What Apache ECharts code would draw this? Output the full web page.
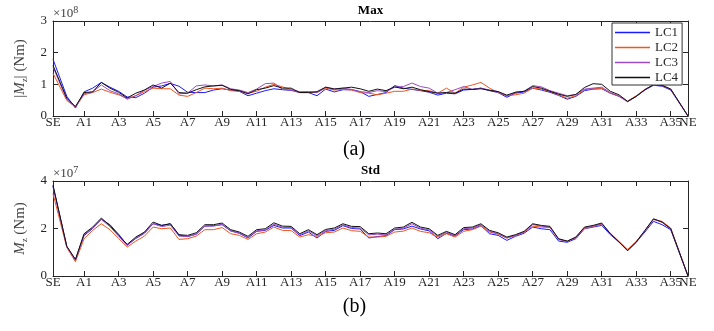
<!DOCTYPE html>
<html><head><meta charset="utf-8">
<script src="https://cdn.jsdelivr.net/npm/echarts@6/dist/echarts.min.js"></script>
<style>html,body{margin:0;padding:0;background:#fff}#c{width:714px;height:331px}</style>
</head><body><div id="c"></div>
<script>
// station positions along the bridge (A-units): SE, A0 ... A35 step 0.5, NE
const stations = [-0.8,
 0,0.5,1,1.5,2,2.5,3,3.5,4,4.5,5,5.5,6,6.5,7,7.5,8,8.5,9,9.5,10,10.5,11,11.5,12,12.5,13,13.5,14,14.5,15,15.5,16,16.5,17,17.5,
 18,18.5,19,19.5,20,20.5,21,21.5,22,22.5,23,23.5,24,24.5,25,25.5,26,26.5,27,27.5,28,28.5,29,29.5,30,30.5,31,31.5,32,32.5,33,33.5,34,34.5,35,
 36];
const tickPositions = [-0.8,1,3,5,7,9,11,13,15,17,19,21,23,25,27,29,31,33,35,36];
const tickLabels = ['SE','A1','A3','A5','A7','A9','A11','A13','A15','A17','A19','A21','A23','A25','A27','A29','A31','A33','A35','NE'];
const seriesNames = ['LC1','LC2','LC3','LC4'];

// Max |Mz| (x1e8 Nm)
const maxLC1 = [1.79,0.62,0.25,0.76,0.88,1.06,0.91,0.78,0.60,0.58,0.72,0.91,0.95,1.03,0.94,0.75,0.74,0.74,0.82,0.86,0.82,0.78,0.64,0.72,0.80,0.86,0.83,0.81,0.74,0.74,0.64,0.85,0.76,0.83,0.83,0.77,0.62,0.68,0.74,0.96,0.88,0.84,0.80,0.75,0.66,0.72,0.70,0.82,0.84,0.88,0.80,0.74,0.59,0.72,0.76,0.88,0.82,0.75,0.65,0.53,0.62,0.80,0.85,0.86,0.72,0.62,0.46,0.62,0.82,0.97,0.94,0.82,0];
const maxLC2 = [1.35,0.49,0.28,0.67,0.74,0.85,0.75,0.67,0.56,0.64,0.77,0.88,0.86,0.86,0.66,0.62,0.74,0.88,0.86,0.88,0.80,0.78,0.72,0.78,0.91,1.00,0.92,0.84,0.74,0.76,0.74,0.88,0.82,0.84,0.82,0.74,0.72,0.67,0.72,0.78,0.78,0.85,0.81,0.80,0.72,0.88,0.72,0.91,0.98,1.06,0.88,0.74,0.64,0.67,0.72,0.88,0.85,0.77,0.67,0.56,0.64,0.83,0.86,0.88,0.72,0.63,0.47,0.64,0.84,0.98,0.96,0.85,0];
const maxLC3 = [1.55,0.52,0.29,0.70,0.77,0.98,0.80,0.70,0.53,0.64,0.82,0.93,1.04,1.09,0.70,0.72,0.95,0.98,0.95,0.98,0.86,0.82,0.74,0.85,1.02,1.04,0.84,0.82,0.77,0.77,0.74,0.91,0.86,0.88,0.84,0.77,0.74,0.80,0.77,0.91,0.93,1.04,0.93,0.88,0.72,0.74,0.83,0.93,0.84,0.88,0.82,0.77,0.62,0.75,0.78,0.96,0.92,0.80,0.72,0.64,0.68,0.85,0.88,0.91,0.74,0.63,0.45,0.62,0.83,0.98,0.96,0.84,0];
const maxLC4 = [1.60,0.56,0.30,0.74,0.76,1.06,0.88,0.75,0.57,0.72,0.82,0.98,0.88,1.04,0.74,0.72,0.83,0.92,0.95,0.97,0.84,0.80,0.70,0.83,0.88,0.96,0.88,0.88,0.74,0.74,0.77,0.91,0.85,0.88,0.91,0.86,0.78,0.85,0.80,0.92,0.86,0.91,0.83,0.77,0.72,0.74,0.72,0.85,0.84,0.86,0.81,0.77,0.66,0.75,0.78,0.93,0.88,0.78,0.69,0.62,0.68,0.90,1.02,1.00,0.78,0.67,0.46,0.62,0.83,0.99,0.97,0.85,0];

// Std Mz (x1e7 Nm)
const stdLC1 = [3.80,1.24,0.68,1.70,2.00,2.39,2.16,1.76,1.30,1.58,1.80,2.20,2.13,2.20,1.72,1.66,1.76,2.10,2.12,2.16,1.90,1.80,1.60,1.88,1.92,2.13,2.02,2.02,1.70,1.85,1.60,1.88,1.92,2.12,2.00,1.98,1.60,1.66,1.70,1.95,1.98,2.10,1.98,1.90,1.57,1.80,1.68,1.95,1.98,2.12,1.78,1.71,1.50,1.67,1.80,2.06,1.99,1.95,1.47,1.42,1.57,1.99,2.06,2.13,1.74,1.43,1.08,1.42,1.85,2.30,2.16,1.95,0];
const stdLC2 = [3.47,1.20,0.60,1.57,1.92,2.20,1.95,1.58,1.22,1.47,1.68,2.06,1.99,2.02,1.54,1.57,1.68,1.95,1.95,2.04,1.78,1.71,1.54,1.78,1.85,2.06,1.92,1.91,1.64,1.74,1.67,1.82,1.85,2.02,1.91,1.88,1.64,1.64,1.67,1.85,1.89,2.02,1.88,1.82,1.64,1.78,1.64,1.88,1.95,2.10,1.85,1.76,1.60,1.70,1.84,2.10,2.06,2.04,1.55,1.46,1.62,2.00,2.08,2.18,1.80,1.46,1.12,1.46,1.90,2.38,2.30,2.02,0];
const stdLC3 = [3.75,1.23,0.66,1.75,2.02,2.38,2.08,1.68,1.28,1.60,1.82,2.20,2.08,2.14,1.68,1.66,1.76,2.10,2.10,2.17,1.90,1.80,1.62,1.90,1.94,2.18,2.05,2.04,1.73,1.90,1.70,1.91,1.97,2.15,2.04,2.02,1.73,1.76,1.73,1.97,2.01,2.20,2.01,1.94,1.67,1.84,1.70,1.99,2.02,2.16,1.88,1.78,1.60,1.71,1.85,2.17,2.10,2.06,1.54,1.45,1.62,2.03,2.10,2.20,1.78,1.44,1.08,1.43,1.90,2.39,2.26,1.98,0];
const stdLC4 = [3.82,1.25,0.70,1.78,2.06,2.44,2.12,1.72,1.33,1.64,1.85,2.27,2.13,2.20,1.74,1.71,1.82,2.16,2.16,2.23,1.95,1.85,1.67,1.95,1.99,2.24,2.10,2.09,1.78,1.95,1.74,1.96,2.02,2.20,2.09,2.08,1.78,1.81,1.78,2.02,2.06,2.26,2.06,1.99,1.71,1.88,1.74,2.04,2.06,2.20,1.92,1.82,1.64,1.74,1.88,2.20,2.13,2.09,1.57,1.47,1.64,2.06,2.13,2.23,1.78,1.43,1.06,1.43,1.92,2.41,2.27,1.99,0];

const colors = ['#1a1aff','#f0561e','#9a4cc0','#111111'];
const FONT = 'Liberation Serif';
const TXT = '#262626';
const NAMEC = '#404040';

function pairs(vals){ return stations.map((x,i)=>[x, vals[i]]); }
function labelFor(v){
  for (let i=0;i<tickPositions.length;i++) if (Math.abs(tickPositions[i]-v)<1e-6) return tickLabels[i];
  return '';
}
const lastTick = tickPositions[tickPositions.length-1];
const innerTicks = tickPositions.slice(0, tickPositions.length-1);
function xAxes(g){
  const common = {type:'value', gridIndex:g, min:-0.8, max:36, splitLine:{show:false},
    axisLine:{show:true, onZero:false, lineStyle:{color:TXT, width:1}}};
  const lab = {fontFamily:FONT, fontSize:13, color:TXT, margin:0, formatter:labelFor, showMinLabel:true, showMaxLabel:true};
  return [
    Object.assign({}, common, {position:'bottom',
      axisTick:{show:true, inside:true, length:5, customValues:tickPositions, lineStyle:{color:TXT}},
      axisLabel:Object.assign({show:true, customValues:innerTicks}, lab)}),
    Object.assign({}, common, {position:'top',
      axisTick:{show:true, inside:true, length:5, customValues:tickPositions, lineStyle:{color:TXT}},
      axisLabel:{show:false}}),
    Object.assign({}, common, {position:'bottom', offset:0, axisLine:{show:false}, axisTick:{show:false},
      axisLabel:Object.assign({show:true, customValues:[lastTick]}, lab)})
  ];
}
function yAxes(g, max, interval, nameRich){
  return [
    {type:'value', gridIndex:g, min:0, max:max, interval:interval, position:'left',
     splitLine:{show:false}, axisLine:{show:true, onZero:false, lineStyle:{color:TXT}},
     axisTick:{show:true, inside:true, length:5, lineStyle:{color:TXT}},
     axisLabel:{fontFamily:FONT, fontSize:13, color:TXT, margin:6, showMinLabel:true, showMaxLabel:true},
     name:nameRich, nameLocation:'middle', nameGap:12, nameRotate:90,
     nameTextStyle:{fontFamily:FONT, fontSize:15, color:NAMEC, lineHeight:20,
       rich:{i:{fontFamily:FONT, fontSize:15, fontStyle:'italic', color:NAMEC, lineHeight:20},
             s:{fontFamily:FONT, fontSize:9, color:NAMEC, verticalAlign:'bottom', lineHeight:10},
             n:{fontFamily:FONT, fontSize:15, color:NAMEC, lineHeight:20}}}},
    {type:'value', gridIndex:g, min:0, max:max, interval:interval, position:'right',
     splitLine:{show:false}, axisLine:{show:true, onZero:false, lineStyle:{color:TXT}},
     axisTick:{show:true, inside:true, length:5, lineStyle:{color:TXT}},
     axisLabel:{show:false}}
  ];
}

const maxData = [maxLC1, maxLC2, maxLC3, maxLC4];
const stdData = [stdLC1, stdLC2, stdLC3, stdLC4];
const series = [];
maxData.forEach((d,i)=>series.push({name:seriesNames[i], type:'line', xAxisIndex:0, yAxisIndex:0, data:pairs(d),
  symbol:'none', lineStyle:{width:1, color:colors[i]}, itemStyle:{color:colors[i]}, animation:false}));
stdData.forEach((d,i)=>series.push({name:seriesNames[i], type:'line', xAxisIndex:3, yAxisIndex:2, data:pairs(d),
  symbol:'none', lineStyle:{width:1, color:colors[i]}, itemStyle:{color:colors[i]}, animation:false}));

const supRich = {p:{fontFamily:FONT, fontSize:10, fill:NAMEC, verticalAlign:'top', lineHeight:10}};
const chart = echarts.init(document.getElementById('c'), null, {renderer:'canvas'});
chart.setOption({
  animation:false,
  backgroundColor:'#fff',
  grid:[{left:53, top:21, width:635, height:95},{left:53, top:181, width:635, height:95}],
  xAxis:[...xAxes(0), ...xAxes(1)],
  yAxis:[...yAxes(0,3,1,'|{i|M}{s|z}{n|| (Nm)}'), ...yAxes(1,4,2,'{i|M}{s|z}{n| (Nm)}')],
  legend:{data:seriesNames, orient:'vertical', left:612, top:23, icon:'rect', itemWidth:35, itemHeight:1.5, itemGap:0,
    padding:[2,4,0,3], backgroundColor:'#fff', borderColor:'#333', borderWidth:1,
    textStyle:{fontFamily:FONT, fontSize:13, color:TXT, lineHeight:15}},
  series:series,
  graphic:[
    {type:'text', x:370.5, y:11, style:{text:'Max', font:'bold 13px "Liberation Serif"', fill:'#000', textAlign:'center', textVerticalAlign:'middle'}},
    {type:'text', x:370.5, y:171, style:{text:'Std', font:'bold 13px "Liberation Serif"', fill:'#000', textAlign:'center', textVerticalAlign:'middle'}},
    {type:'text', x:53, y:14, style:{text:'×10{p|8}', fontFamily:FONT, fontSize:13, lineHeight:18, fill:NAMEC, textVerticalAlign:'middle', rich:supRich}},
    {type:'text', x:53, y:174, style:{text:'×10{p|7}', fontFamily:FONT, fontSize:13, lineHeight:18, fill:NAMEC, textVerticalAlign:'middle', rich:supRich}},
    {type:'text', x:354, y:150, style:{text:'(a)', font:'20px "Liberation Serif"', fill:'#000', textAlign:'center', textVerticalAlign:'middle'}},
    {type:'text', x:354.5, y:307, style:{text:'(b)', font:'20px "Liberation Serif"', fill:'#000', textAlign:'center', textVerticalAlign:'middle'}}
  ]
});
</script></body></html>
